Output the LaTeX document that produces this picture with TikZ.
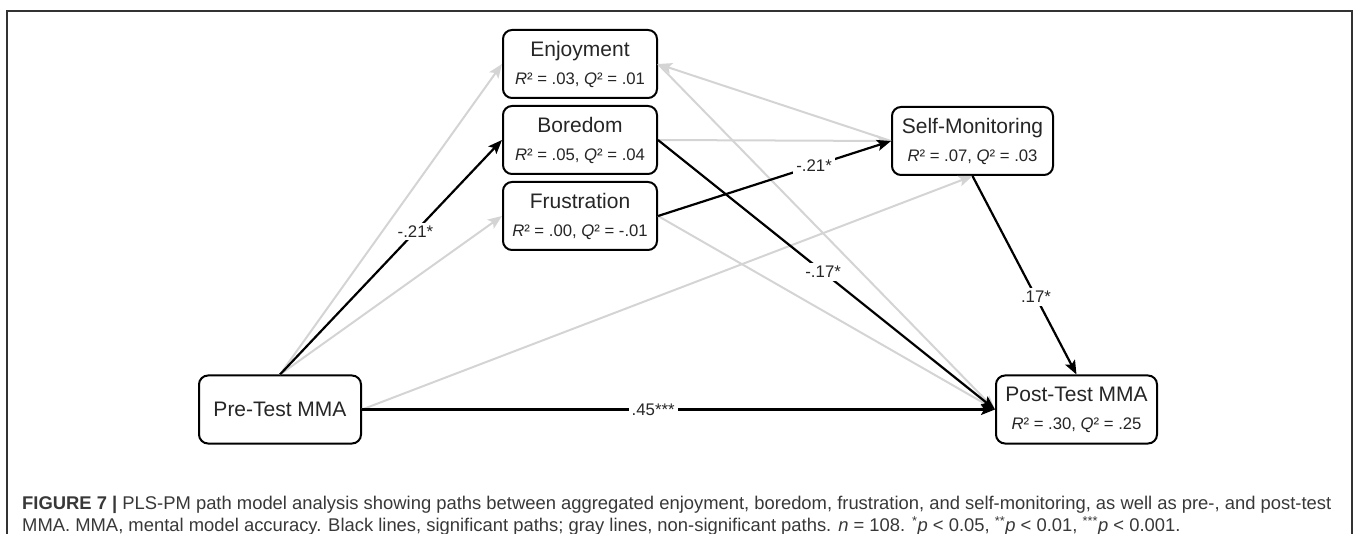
\documentclass[tikz,border=0pt]{standalone}
\usepackage{fontspec}
\setmainfont{Liberation Sans}
\definecolor{pathgray}{gray}{0.83}
\definecolor{captioncolor}{gray}{0.22}
\usetikzlibrary{arrows.meta,positioning}
\newcommand{\fit}[2]{{\fontsize{16.7}{28}\selectfont\textit{R}² = #1, \textit{Q}² = #2}}
\tikzset{
	latent/.style={
		rectangle,
		rounded corners=9pt,
		draw=black,
		line width=2pt,
		fill=white,
		minimum width=154pt,
		minimum height=68pt,
		align=center,
		text=black!85,
		font=\fontsize{21}{28}\selectfont
	},
	sigpath/.style={
		color=black,
		line width=2.2pt,
		-{Stealth[length=14pt,width=11pt,inset=3pt]}
	},
	nspath/.style={
		color=pathgray,
		line width=2pt,
		-{Stealth[length=14pt,width=11pt,inset=3pt]}
	},
	coef/.style={
		fill=white,
		inner sep=3pt,
		text=black!85,
		font=\fontsize{16.8}{20}\selectfont
	},
}
\begin{document}
\begin{tikzpicture}[x=1pt,y=-1pt,node distance=76pt,on grid]
\useasboundingbox (0,0) rectangle (1357,534);
\draw[black!80,line width=1.2pt] (7,550) -- (7,11) -- (1352,11) -- (1352,550);
% latent variables
\node[latent] (enj) at (580,64) {Enjoyment\\\fit{.03}{.01}};
\node[latent] (bor) [below=of enj] {Boredom\\\fit{.05}{.04}};
\node[latent] (frus) [below=of bor] {Frustration\\\fit{.00}{-.01}};
\node[latent,minimum width=161pt] (sm) at (972.5,141) {Self-Monitoring\\\fit{.07}{.03}};
\node[latent,minimum width=162pt] (pre) at (280,409.5) {Pre-Test MMA};
\node[latent,minimum width=161pt] (post) at (1076.5,409.5) {Post-Test MMA\\\fit{.30}{.25}};
% non-significant paths
\path[nspath]
(pre.north) edge (enj.west)
(pre.north) edge (frus.west)
(pre.east) edge (sm.south)
(enj.east) edge (post.west)
(frus.east) edge (post.west)
(bor.east) edge (sm.west)
(sm.west) edge (enj.east);
% significant paths
\path[sigpath]
(pre.north) edge node[coef,pos=0.61] {-.21*} (bor.west)
(frus.east) edge node[coef,pos=0.67] {-.21*} (sm.west)
(bor.east) edge node[coef,pos=0.49] {-.17*} (post.west)
(sm.south) edge node[coef,pos=0.61] {.17*} (post.north)
(pre.east) edge node[coef,pos=0.46] {.45***} (post.west);
% caption
\node[anchor=north west,align=left,inner sep=0pt,text=captioncolor,
  font=\fontsize{18.4}{22}\selectfont] (caption) at (22,496)
  {\textbf{FIGURE 7 |} PLS-PM path model analysis showing paths between aggregated enjoyment, boredom, frustration, and self-monitoring, as well as pre-, and post-test\\
  MMA. MMA, mental model accuracy. Black lines, significant paths; gray lines, non-significant paths. \textit{n} = 108. \textsuperscript{*}\textit{p} < 0.05, \textsuperscript{**}\textit{p} < 0.01, \textsuperscript{***}\textit{p} < 0.001.};
\end{tikzpicture}
\end{document}
